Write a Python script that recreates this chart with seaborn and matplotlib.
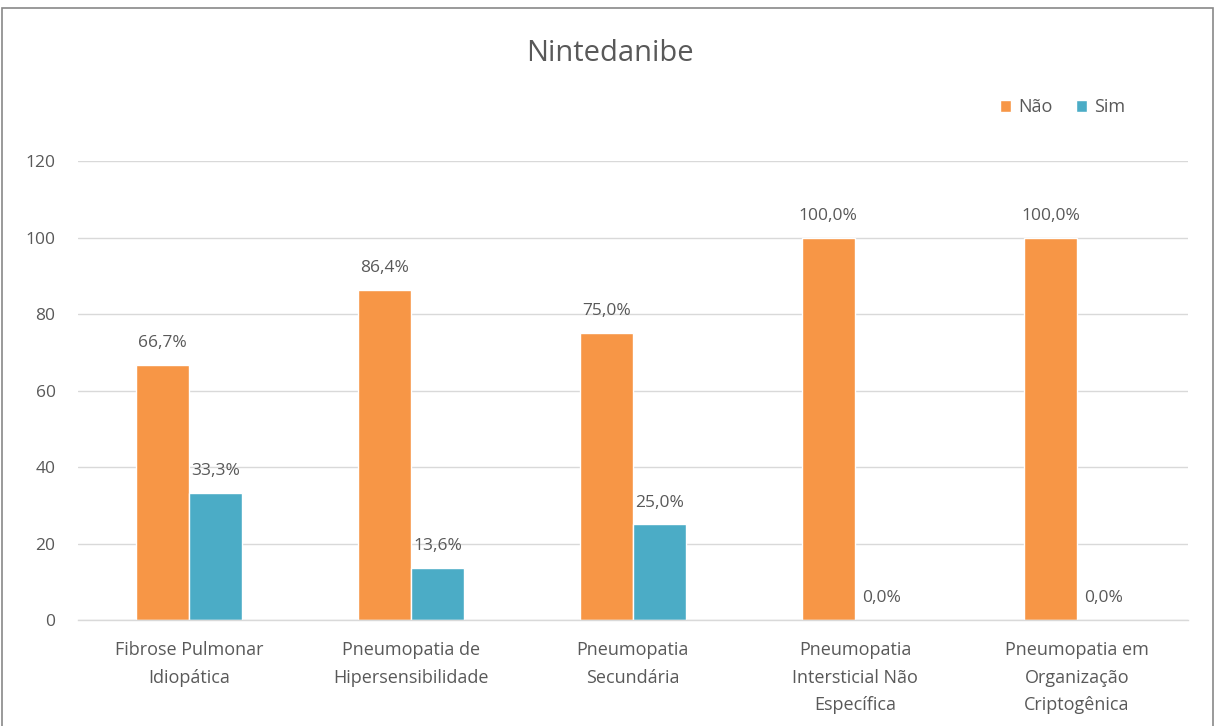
import matplotlib
matplotlib.use("Agg")
import matplotlib.pyplot as plt
from matplotlib.patches import Rectangle
import seaborn as sns
import pandas as pd

categories = [
    "Fibrose Pulmonar\nIdiopática",
    "Pneumopatia de\nHipersensibilidade",
    "Pneumopatia\nSecundária",
    "Pneumopatia\nIntersticial Não\nEspecífica",
    "Pneumopatia em\nOrganização\nCriptogênica",
]
nao = [66.7, 86.4, 75.0, 100.0, 100.0]
sim = [33.3, 13.6, 25.0, 0.0, 0.0]
series = ["Não", "Sim"]
colors = ["#F79646", "#4BACC6"]
yticks = [0, 20, 40, 60, 80, 100, 120]

df = pd.DataFrame({
    "categoria": categories * 2,
    "valor": nao + sim,
    "serie": [series[0]] * len(categories) + [series[1]] * len(categories),
})

sns.set_theme(style="white")
plt.rcParams["font.family"] = ["Open Sans", "DejaVu Sans"]
text_color = "#595959"

fig = plt.figure(figsize=(12.16, 7.26), dpi=100)
ax = fig.add_axes([0.064, 0.146, 0.913, 0.632])

sns.barplot(data=df, x="categoria", y="valor", hue="serie", order=categories,
            hue_order=series, palette=colors, width=0.48, saturation=1,
            ax=ax, legend=True)

ax.set_ylim(0, 120)
ax.set_yticks(yticks)
ax.set_yticklabels([str(t) for t in yticks], color=text_color, fontsize=12.5)
ax.set_xlim(-0.5, len(categories) - 0.5)
ax.tick_params(axis="x", colors=text_color, labelsize=13, length=0, pad=15)
ax.tick_params(axis="y", length=0, pad=16)
for lbl in ax.get_xticklabels():
    lbl.set_color(text_color)
    lbl.set_linespacing(1.7)
ax.set_xlabel("")
ax.set_ylabel("")

ax.yaxis.grid(True, color="#D9D9D9", linewidth=1)
ax.set_axisbelow(True)
for side in ["top", "right", "left"]:
    ax.spines[side].set_visible(False)
ax.spines["bottom"].set_color("#D9D9D9")
ax.spines["bottom"].set_linewidth(1)

for cont in ax.containers:
    labels = [f"{v:.1f}%".replace(".", ",") for v in cont.datavalues]
    ax.bar_label(cont, labels=labels, padding=10, color=text_color, fontsize=12.5)

handles, labs = ax.get_legend_handles_labels()
ax.legend(handles, labs, loc="center right", bbox_to_anchor=(0.958, 1.117),
          ncol=2, frameon=False, fontsize=13, handlelength=0.6,
          handleheight=0.6, handletextpad=0.4, columnspacing=1.3,
          labelcolor=text_color)

fig.text(0.502, 0.926, "Nintedanibe", ha="center", va="center",
         fontsize=21, color=text_color)

fig.add_artist(Rectangle((2 / 1216, -0.01), 1211 / 1216, 1 - 8 / 726 + 0.01,
                         transform=fig.transFigure, fill=False,
                         edgecolor="#898989", linewidth=1.2))

fig.savefig("out.png", dpi=100, facecolor="white")
